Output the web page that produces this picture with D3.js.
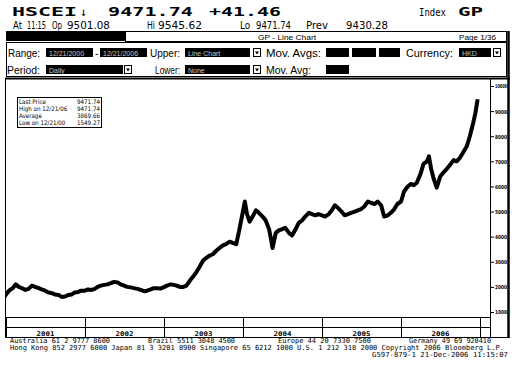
<!DOCTYPE html>
<html><head><meta charset="utf-8">
<script src="https://cdn.jsdelivr.net/npm/d3@7"></script>
<style>
html,body{margin:0;padding:0;background:#fff;}
svg{display:block;}
</style></head>
<body>
<svg id="c" width="516" height="369"></svg>
<script>
const dates = ["2000-12-21","2001-01-01","2001-01-15","2001-02-01","2001-02-15","2001-03-01","2001-03-15","2001-04-01","2001-04-15","2001-05-01","2001-05-15","2001-06-01","2001-06-15","2001-07-01","2001-07-15","2001-08-01","2001-08-15","2001-09-01","2001-09-15","2001-10-01","2001-10-15","2001-11-01","2001-11-15","2001-12-01","2001-12-15",
"2002-01-01","2002-01-15","2002-02-01","2002-02-15","2002-03-01","2002-03-15","2002-04-01","2002-04-15","2002-05-01","2002-05-15","2002-06-01","2002-06-15","2002-07-01","2002-07-15","2002-08-01","2002-08-15","2002-09-01","2002-09-15","2002-10-01","2002-10-15","2002-11-01","2002-11-15","2002-12-01","2002-12-15",
"2003-01-01","2003-01-15","2003-02-01","2003-02-15","2003-03-01","2003-03-15","2003-04-01","2003-04-15","2003-05-01","2003-05-15","2003-06-01","2003-06-15","2003-07-01","2003-07-15","2003-08-01","2003-08-15","2003-09-01","2003-09-15","2003-10-01","2003-10-15","2003-11-01","2003-11-15","2003-12-01","2003-12-15",
"2004-01-01","2004-01-10","2004-01-20","2004-02-01","2004-02-15","2004-03-01","2004-03-15","2004-04-01","2004-04-15","2004-05-01","2004-05-10","2004-05-17","2004-06-01","2004-06-15","2004-07-01","2004-07-15","2004-08-01","2004-08-15","2004-09-01","2004-09-15","2004-10-01","2004-10-15","2004-11-01","2004-11-15","2004-12-01","2004-12-15",
"2005-01-01","2005-01-15","2005-02-01","2005-02-15","2005-03-01","2005-03-15","2005-04-01","2005-04-15","2005-05-01","2005-05-15","2005-06-01","2005-06-15","2005-07-01","2005-07-15","2005-08-01","2005-08-15","2005-09-01","2005-09-15","2005-10-01","2005-10-15","2005-11-01","2005-11-15","2005-12-01","2005-12-15",
"2006-01-01","2006-01-15","2006-02-01","2006-02-15","2006-03-01","2006-03-15","2006-04-01","2006-04-15","2006-05-01","2006-05-10","2006-05-20","2006-06-01","2006-06-15","2006-07-01","2006-07-15","2006-08-01","2006-08-15","2006-09-01","2006-09-15","2006-10-01","2006-10-15","2006-11-01","2006-11-15","2006-12-01","2006-12-10","2006-12-15","2006-12-21"];
const prices = [1549,1700,1850,1950,2100,2000,1950,1880,1920,2050,2000,1950,1900,1850,1780,1750,1700,1680,1600,1620,1680,1700,1780,1800,1850,
1850,1900,1880,1920,2000,2050,2080,2100,2150,2200,2180,2100,2050,2000,1980,1950,1920,1880,1830,1850,1900,1950,1950,1930,
1990,2050,2100,2080,2050,2000,2000,2050,2250,2400,2600,2800,3050,3150,3250,3300,3450,3550,3650,3700,3800,3750,3700,4250,
5000,5400,4900,4600,4800,5050,4950,4800,4650,4300,3900,3550,4150,4250,4300,4350,4150,4050,4300,4550,4650,4800,4950,4900,4850,4900,
4850,4800,4900,5050,5250,5150,5000,4850,4900,4950,5000,5050,5100,5200,5400,5350,5300,5400,5250,4800,4850,4950,5100,5300,
5400,5800,6000,6100,6050,6150,6500,6900,7000,7200,6700,6300,5950,6400,6550,6700,6850,7050,7000,7150,7350,7600,8000,8550,8900,9150,9471.74];
const yTicks = [1000,2000,3000,4000,5000,6000,7000,8000,9000,10000];
const yearLabels = ["2001","2002","2003","2004","2005","2006"];
const legendRows = [["Last Price","9471.74"],["High on 12/21/06","9471.74"],["Average","3869.66"],["Low on 12/21/00","1549.27"]];

const svg = d3.select("#c");
const parse = d3.timeParse("%Y-%m-%d");
const data = dates.map((d,i)=>({date:parse(d), v:prices[i]}));

const PL=6, PR=491, PT=79, PB=317;
const x = d3.scaleTime().domain([new Date(2001,0,1), new Date(2007,0,1)]).range([6,480]);
const y = d3.scaleLinear().domain([1000,10000]).range([312,86]);

const mono = "'DejaVu Sans Mono', monospace";
const sans = "'Liberation Sans', Arial, sans-serif";
const cond = "'DejaVu Sans Condensed','DejaVu Sans', sans-serif";

function txt(s, xx, yy, opts={}) {
  const t = svg.append("text").attr("x",xx).attr("y",yy).text(s)
    .attr("font-family",opts.ff||sans).attr("font-size",opts.fs||10)
    .attr("fill",opts.fill||"#000");
  if (opts.fw) t.attr("font-weight",opts.fw);
  if (opts.anchor) t.attr("text-anchor",opts.anchor);
  if (opts.tl) t.attr("textLength",opts.tl).attr("lengthAdjust","spacingAndGlyphs");
  return t;
}

// Header line 1
txt("HSCEI",12,16,{ff:mono,fs:13,fw:"bold",tl:65});
txt("\u2193",80,16,{ff:mono,fs:12,tl:7});
txt("9471.74",108,16,{ff:mono,fs:13,fw:"bold",tl:85});
txt("+41.46",209,16,{ff:mono,fs:13,fw:"bold",tl:72});
txt("Index",419,16,{ff:mono,fs:11,tl:27});
txt("GP",458,16,{ff:mono,fs:13,fw:"bold",tl:25});
// Header line 2
const l2 = [["At",13,9],["11:15",27,19],["Op",52,10],["9501.08",67,43],["Hi",147,8],["9545.62",158,44],["Lo",240,10],["9471.74",256,35],["Prev",306,22],["9430.28",346,42]];
l2.forEach(([s,xx,w])=>txt(s,xx,29,{ff:cond,fs:10,tl:w}));

// Title bar
svg.append("rect").attr("x",6).attr("y",31).attr("width",119).attr("height",10).attr("fill","#000");
svg.append("rect").attr("x",125.5).attr("y",31.5).attr("width",381).attr("height",10).attr("fill","#fff").attr("stroke","#000");
txt("GP - Line Chart",258,39.5,{fs:8,tl:58});
txt("Page 1/36",459,39.5,{fs:8,tl:37});

// Panel
svg.append("rect").attr("x",6.5).attr("y",42.5).attr("width",500).attr("height",34).attr("fill","#fff").attr("stroke","#000");
function box(x0,y0,w,label){
  svg.append("rect").attr("x",x0).attr("y",y0).attr("width",w).attr("height",9).attr("fill","#000");
  if(label) txt(label,x0+3,y0+7.5,{fs:7,fill:"#fff",fw:"normal"}).attr("opacity",0.75);
}
function arrow(x0,y0){
  svg.append("rect").attr("x",x0+0.5).attr("y",y0+0.5).attr("width",7).attr("height",8).attr("fill","#fff").attr("stroke","#000");
  svg.append("path").attr("d",`M${x0+2},${y0+3.5}L${x0+6},${y0+3.5}L${x0+4},${y0+6.5}Z`).attr("fill","#000");
}
txt("Range:",8,57,{fs:10.5,tl:32});
box(46,48,47,"12/21/2000"); txt("-",95,57,{fs:10.5});
box(100,48,47,"12/21/2006");
txt("Upper:",150,57,{fs:10.5,tl:30});
box(185,48,65,"Line Chart"); arrow(253,48);
txt("Mov. Avgs:",266,57,{fs:10.5,tl:55});
box(326,48,23); box(352,48,24); box(379,48,21);
txt("Currency:",406,57,{fs:10.5,tl:47});
box(459,48,32,"HKD"); arrow(493,48);
txt("Period:",7,74,{fs:10.5,tl:33});
box(46,65,77,"Daily"); arrow(124,65);
txt("Lower:",155,74,{fs:10.5,tl:25});
box(185,65,65,"None"); arrow(253,65);
txt("Mov. Avg:",266,74,{fs:10.5,tl:45});
box(326,65,23);

// Chart frame
svg.append("line").attr("x1",5).attr("x2",510).attr("y1",78.5).attr("y2",78.5).attr("stroke","#000").attr("stroke-width",2);
svg.append("line").attr("x1",5.5).attr("x2",5.5).attr("y1",78).attr("y2",338).attr("stroke","#000");
svg.append("line").attr("x1",508.5).attr("x2",508.5).attr("y1",31).attr("y2",338).attr("stroke","#000").attr("stroke-width",2.5);
svg.append("line").attr("x1",490.5).attr("x2",490.5).attr("y1",79).attr("y2",338).attr("stroke","#000");

// clip
svg.append("clipPath").attr("id","clip").append("rect").attr("x",PL).attr("y",PT).attr("width",PR-PL).attr("height",PB-PT);

const line = d3.line().x(d=>x(d.date)).y(d=>y(d.v));
svg.append("path").datum(data).attr("clip-path","url(#clip)")
  .attr("d",line).attr("fill","none").attr("stroke","#000").attr("stroke-width",4).attr("stroke-linejoin","round");

// Right axis
const ax = svg.append("g").attr("transform",`translate(${PR},0)`)
  .call(d3.axisRight(y).tickValues(yTicks).tickSize(3).tickPadding(1).tickFormat(d3.format("d")));
ax.select(".domain").remove();
ax.selectAll("line").attr("stroke","#000");
ax.selectAll("text").attr("font-family",cond).attr("font-size",5.5).attr("font-weight","bold")
  .attr("textLength",12).attr("lengthAdjust","spacingAndGlyphs").attr("dy","0.35em");

// Bottom band
const bandG = svg.append("g");
bandG.append("line").attr("x1",5).attr("x2",491).attr("y1",317.5).attr("y2",317.5).attr("stroke","#000");
bandG.append("line").attr("x1",5).attr("x2",491).attr("y1",327.5).attr("y2",327.5).attr("stroke","#000");
bandG.append("line").attr("x1",5).attr("x2",510).attr("y1",337.5).attr("y2",337.5).attr("stroke","#000");
const bounds = d3.timeYear.range(new Date(2001,0,1), new Date(2007,1,1));
bandG.selectAll("line.yb").data(bounds).join("line").attr("class","yb")
  .attr("x1",d=>Math.round(x(d))+0.5).attr("x2",d=>Math.round(x(d))+0.5)
  .attr("y1",317).attr("y2",338).attr("stroke","#000");
bandG.selectAll("text.yl").data(yearLabels).join("text").attr("class","yl")
  .attr("x",(d)=>(x(new Date(+d,0,1))+x(new Date(+d+1,0,1)))/2).attr("y",335.5)
  .attr("text-anchor","middle").attr("font-family",mono).attr("font-size",6.5).attr("font-weight","bold")
  .attr("textLength",18).attr("lengthAdjust","spacingAndGlyphs").text(d=>d);

// Legend box
svg.append("rect").attr("x",17.5).attr("y",97.5).attr("width",84).attr("height",30).attr("fill","#fff").attr("stroke","#000");
legendRows.forEach((r,i)=>{
  txt(r[0],19,103.5+i*7,{ff:cond,fs:6.2});
  txt(r[1],100,103.5+i*7,{ff:cond,fs:6.2,anchor:"end"});
});

// Footer
const f = {ff:mono,fs:7};
txt("Australia 61 2 9777 8600",10,343,{...f,tl:100});
txt("Brazil 5511 3048 4500",148,343,{...f,tl:87});
txt("Europe 44 20 7330 7500",278,343,{...f,tl:93});
txt("Germany 49 69 920410",409,343,{...f,tl:82});
txt("Hong Kong 852 2977 6000 Japan 81 3 3201 8900 Singapore 65 6212 1000 U.S. 1 212 318 2000 Copyright 2006 Bloomberg L.P.",10,350,{...f,tl:494});
txt("G597-879-1 21-Dec-2006 11:15:07",372,357,{...f,tl:136});
</script>
</body></html>
